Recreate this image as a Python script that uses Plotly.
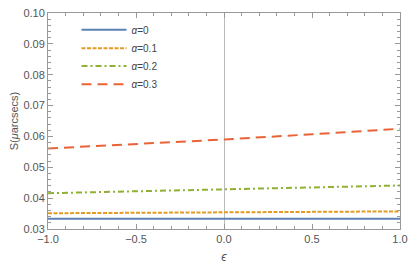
import plotly.graph_objects as go

eps = [-1.0, -0.5, 0.0, 0.5, 1.0]
s_a0 = [0.0333, 0.0333, 0.0333, 0.0333, 0.0333]
s_a01 = [0.0351, 0.03525, 0.0354, 0.03555, 0.0357]
s_a02 = [0.0416, 0.0422, 0.0428, 0.0434, 0.0441]
s_a03 = [0.0561, 0.0575, 0.0590, 0.0607, 0.0625]
names = ["<i>α</i>=0", "<i>α</i>=0.1", "<i>α</i>=0.2", "<i>α</i>=0.3"]
colors = ["#5E81B5", "#E19C24", "#8FB032", "#EB6235"]
dashes = ["solid", "4px,1.5px", "6px,3px,2px,3px", "10px,6px"]
legend_ids = ["legend", "legend2", "legend3", "legend4"]
legend_y = [0.9896, 0.904, 0.8212, 0.7374]

fig = go.Figure()
for i, ys in enumerate([s_a0, s_a01, s_a02, s_a03]):
    fig.add_trace(go.Scatter(x=eps, y=ys, mode="lines", name=names[i],
                             legend=legend_ids[i],
                             line=dict(color=colors[i], width=2, dash=dashes[i])))

font_fam = "Liberation Sans, Arial, sans-serif"
axcol = "#999999"
legends = {}
for lid, ly in zip(legend_ids, legend_y):
    legends[lid] = dict(x=0.081, y=ly, xanchor="left", yanchor="top",
                        bgcolor="rgba(0,0,0,0)", font=dict(size=10, color="#444444"),
                        itemwidth=45)

fig.update_layout(
    width=415, height=271,
    margin=dict(l=48, r=10, t=7, b=42),
    plot_bgcolor="white", paper_bgcolor="white",
    font=dict(family=font_fam, size=11, color="#555555"),
    showlegend=True,
    xaxis=dict(range=[-1, 1], tickvals=[-1, -0.5, 0, 0.5, 1],
               ticktext=["−1.0", "−0.5", "0.0", "0.5", "1.0"],
               showgrid=False, zeroline=True, zerolinecolor="#bbbbbb", zerolinewidth=1,
               showline=True, linecolor=axcol, linewidth=1, mirror="ticks",
               ticks="inside", ticklen=5, tickcolor=axcol,
               minor=dict(dtick=0.1, ticks="inside", ticklen=3, tickcolor=axcol),
               tickfont=dict(size=11, color="#555555"),
               title=dict(text="<i>ϵ</i>", font=dict(size=12, color="#555555"), standoff=8)),
    yaxis=dict(range=[0.03, 0.10], tickvals=[0.03, 0.04, 0.05, 0.06, 0.07, 0.08, 0.09, 0.10],
               ticktext=["0.03", "0.04", "0.05", "0.06", "0.07", "0.08", "0.09", "0.10"],
               showgrid=False, zeroline=False,
               showline=True, linecolor=axcol, linewidth=1, mirror="ticks",
               ticks="inside", ticklen=5, tickcolor=axcol,
               minor=dict(dtick=0.002, ticks="inside", ticklen=3, tickcolor=axcol),
               tickfont=dict(size=11, color="#555555"),
               title=dict(text="S(<i>μ</i>arcsecs)", font=dict(size=11, color="#555555"), standoff=2)),
    **legends,
)
fig.write_html("out.html", post_script="document.body.style.margin='0';",
               config={"displayModeBar": False})
